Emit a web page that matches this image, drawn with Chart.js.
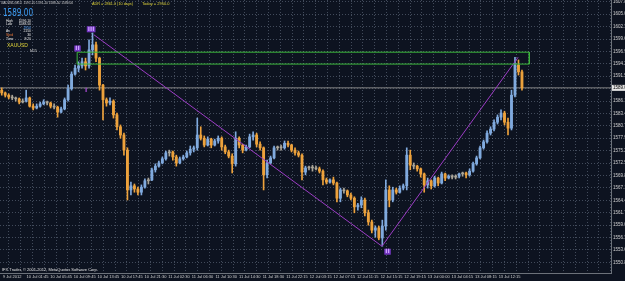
<!DOCTYPE html>
<html>
<head>
<meta charset="utf-8">
<script src="https://cdn.jsdelivr.net/npm/chart.js@4/dist/chart.umd.min.js"></script>
<style>
  html, body { margin: 0; padding: 0; background: #0d1320; overflow: hidden; }
</style>
</head>
<body>
<canvas id="chart" width="625" height="281"></canvas>
<script>
// XAUUSD M15, 9-13 Jul 2012 (one candle here ~ 2 bars of the original)
const openP = [
  1588.5, 1587.9, 1587.4, 1587.0, 1586.8, 1586.6, 1585.9, 1586.1, 1586.8, 1585.0,
  1584.6, 1585.0, 1585.5, 1585.9, 1585.7, 1585.0, 1584.8, 1583.7, 1584.4, 1586.4,
  1588.8, 1592.0, 1593.3, 1593.8, 1594.7, 1593.8, 1597.3, 1598.4, 1595.5, 1589.6,
  1586.4, 1585.7, 1586.1, 1583.1, 1580.5, 1578.7, 1575.4, 1566.7, 1567.6, 1566.9,
  1566.2, 1567.3, 1568.7, 1568.9, 1571.1, 1571.9, 1572.6, 1573.5, 1574.8, 1575.0,
  1573.9, 1572.6, 1573.5, 1573.9, 1574.8, 1575.6, 1575.9, 1578.7, 1578.0, 1576.5,
  1577.8, 1576.5, 1577.4, 1578.0, 1576.1, 1575.0, 1574.1, 1572.4, 1578.0, 1576.5,
  1575.4, 1576.1, 1578.3, 1578.7, 1576.7, 1575.9, 1570.0, 1572.6, 1573.7, 1575.9,
  1576.1, 1575.9, 1576.9, 1576.5, 1575.4, 1574.8, 1574.3, 1570.6, 1571.5, 1571.7,
  1571.5, 1571.3, 1570.8, 1568.9, 1568.4, 1568.9, 1568.2, 1564.9, 1566.7, 1566.5,
  1565.6, 1564.9, 1563.0, 1563.4, 1564.5, 1561.7, 1559.7, 1557.9, 1558.4, 1556.2,
  1558.8, 1566.7, 1564.5, 1566.7, 1566.2, 1567.1, 1567.6, 1574.3, 1572.1, 1571.9,
  1571.3, 1570.2, 1567.8, 1568.7, 1567.6, 1569.3, 1568.2, 1570.2, 1569.3, 1569.7,
  1569.5, 1569.7, 1570.2, 1570.4, 1570.0, 1570.8, 1572.4, 1573.7, 1575.9, 1577.2,
  1579.1, 1580.0, 1581.5, 1582.6, 1583.5, 1581.5, 1580.2, 1587.4, 1594.0, 1592.5
];
const highP = [
  1589.0, 1588.1, 1587.7, 1587.4, 1587.0, 1586.8, 1586.6, 1588.5, 1587.0, 1585.5,
  1585.5, 1585.9, 1586.4, 1586.1, 1585.9, 1585.5, 1585.0, 1584.8, 1586.8, 1589.6,
  1592.5, 1594.0, 1594.7, 1595.5, 1595.5, 1599.5, 1601.0, 1599.0, 1595.7, 1589.8,
  1586.8, 1586.8, 1586.4, 1583.5, 1580.9, 1579.1, 1575.9, 1568.4, 1568.0, 1567.3,
  1567.8, 1569.1, 1569.3, 1571.5, 1572.4, 1573.0, 1573.9, 1575.2, 1575.4, 1575.2,
  1574.3, 1573.9, 1574.3, 1575.2, 1576.3, 1576.3, 1582.4, 1580.5, 1578.5, 1578.3,
  1578.0, 1577.8, 1578.5, 1578.3, 1576.5, 1575.4, 1574.6, 1579.4, 1578.3, 1576.7,
  1576.5, 1578.9, 1579.4, 1579.1, 1577.2, 1576.1, 1573.2, 1574.1, 1576.3, 1576.3,
  1576.5, 1577.4, 1577.4, 1576.7, 1575.9, 1575.2, 1574.6, 1571.9, 1571.9, 1572.1,
  1571.9, 1571.7, 1571.1, 1569.3, 1569.1, 1569.5, 1568.4, 1567.1, 1567.1, 1566.7,
  1566.0, 1565.2, 1563.8, 1565.2, 1564.9, 1562.3, 1560.1, 1558.8, 1558.8, 1560.1,
  1568.9, 1567.6, 1567.3, 1567.1, 1567.6, 1568.0, 1575.9, 1575.4, 1572.6, 1572.1,
  1571.5, 1570.4, 1569.3, 1568.9, 1569.7, 1569.5, 1570.6, 1570.4, 1570.0, 1570.0,
  1570.0, 1570.4, 1570.6, 1570.6, 1571.3, 1572.8, 1574.1, 1576.3, 1577.6, 1579.6,
  1580.5, 1582.0, 1583.1, 1584.2, 1583.9, 1582.4, 1588.5, 1595.7, 1595.1, 1592.9
];
const lowP = [
  1587.4, 1587.0, 1586.6, 1586.4, 1586.1, 1585.5, 1585.7, 1585.9, 1584.8, 1584.2,
  1584.4, 1584.8, 1585.3, 1585.3, 1584.6, 1584.4, 1582.6, 1583.5, 1584.2, 1586.1,
  1588.5, 1591.8, 1592.5, 1593.3, 1592.9, 1593.3, 1596.2, 1594.7, 1588.5, 1582.0,
  1585.0, 1585.3, 1582.4, 1579.8, 1578.0, 1574.3, 1564.5, 1565.6, 1566.2, 1565.6,
  1565.6, 1567.1, 1568.0, 1568.7, 1570.6, 1571.7, 1572.4, 1573.2, 1574.1, 1573.2,
  1571.9, 1572.4, 1573.2, 1573.7, 1574.3, 1575.0, 1575.4, 1577.6, 1576.1, 1576.3,
  1575.9, 1576.3, 1576.9, 1575.4, 1574.6, 1573.7, 1570.4, 1571.9, 1575.9, 1574.8,
  1575.2, 1575.9, 1577.6, 1576.1, 1575.4, 1566.7, 1569.3, 1572.4, 1573.5, 1575.4,
  1575.4, 1575.6, 1576.1, 1575.0, 1574.3, 1573.9, 1568.9, 1570.0, 1571.1, 1570.8,
  1571.1, 1570.4, 1567.8, 1568.0, 1568.2, 1567.8, 1564.1, 1564.1, 1566.0, 1565.2,
  1564.5, 1561.7, 1562.3, 1562.8, 1561.0, 1559.0, 1557.3, 1556.4, 1555.8, 1554.4,
  1557.9, 1563.0, 1564.1, 1565.8, 1566.0, 1566.7, 1566.7, 1571.1, 1571.3, 1570.8,
  1569.5, 1566.2, 1567.1, 1566.9, 1567.3, 1567.6, 1568.0, 1568.7, 1569.1, 1569.1,
  1569.1, 1569.3, 1569.7, 1569.3, 1569.7, 1570.6, 1572.1, 1573.5, 1575.6, 1576.9,
  1578.7, 1579.6, 1581.1, 1582.0, 1580.9, 1578.7, 1579.8, 1587.0, 1591.8, 1588.5
];
const closeP = [
  1587.9, 1587.4, 1587.0, 1586.8, 1586.6, 1585.9, 1586.1, 1586.8, 1585.0, 1584.6,
  1585.0, 1585.5, 1585.9, 1585.7, 1585.0, 1584.8, 1583.7, 1584.4, 1586.4, 1588.8,
  1592.0, 1593.3, 1593.8, 1594.7, 1593.8, 1597.3, 1598.4, 1595.5, 1589.6, 1586.4,
  1585.7, 1586.1, 1583.1, 1580.5, 1578.7, 1575.4, 1566.7, 1567.6, 1566.9, 1566.2,
  1567.3, 1568.7, 1568.9, 1571.1, 1571.9, 1572.6, 1573.5, 1574.8, 1575.0, 1573.9,
  1572.6, 1573.5, 1573.9, 1574.8, 1575.6, 1575.9, 1578.7, 1578.0, 1576.5, 1577.8,
  1576.5, 1577.4, 1578.0, 1576.1, 1575.0, 1574.1, 1572.4, 1578.0, 1576.5, 1575.4,
  1576.1, 1578.3, 1578.7, 1576.7, 1575.9, 1570.0, 1572.6, 1573.7, 1575.9, 1576.1,
  1575.9, 1576.9, 1576.5, 1575.4, 1574.8, 1574.3, 1570.6, 1571.5, 1571.7, 1571.5,
  1571.3, 1570.8, 1568.9, 1568.4, 1568.9, 1568.2, 1564.9, 1566.7, 1566.5, 1565.6,
  1564.9, 1563.0, 1563.4, 1564.5, 1561.7, 1559.7, 1557.9, 1558.4, 1556.2, 1558.8,
  1566.7, 1564.5, 1566.7, 1566.2, 1567.1, 1567.6, 1574.3, 1572.1, 1571.9, 1571.3,
  1570.2, 1567.8, 1568.7, 1567.6, 1569.3, 1568.2, 1570.2, 1569.3, 1569.7, 1569.5,
  1569.7, 1570.2, 1570.4, 1570.0, 1570.8, 1572.4, 1573.7, 1575.9, 1577.2, 1579.1,
  1580.0, 1581.5, 1582.6, 1583.5, 1581.5, 1580.2, 1587.4, 1594.0, 1592.5, 1589.0
];

const timeLabels = [
  "9 Jul 2012", "10 Jul 01:45", "10 Jul 05:45", "10 Jul 09:45", "10 Jul 13:45",
  "10 Jul 17:45", "10 Jul 21:30", "11 Jul 02:30", "11 Jul 06:30", "11 Jul 10:30",
  "11 Jul 14:30", "11 Jul 18:30", "11 Jul 22:15", "12 Jul 03:15", "12 Jul 07:15",
  "12 Jul 11:15", "12 Jul 15:15", "12 Jul 19:15", "13 Jul 00:00", "13 Jul 04:15",
  "13 Jul 08:15", "13 Jul 12:15"
];
const priceTicks = [
  1607.80, 1605.09, 1602.38, 1599.67, 1596.96, 1594.25, 1591.54, 1588.83,
  1586.12, 1583.41, 1580.70, 1577.99, 1575.28, 1572.57, 1569.86, 1567.15,
  1564.44, 1561.73, 1559.02, 1556.31, 1553.60, 1550.89
];

const bid = 1589.00;
// resistance box and wave line (candle index, price)
const boxFrom = 21.6, boxTo = 151.1, boxTop = 1596.8, boxBottom = 1594.2;
const zigzagIdx = [26.4, 108.9, 147.9];
const zigzagPrice = [1600.6, 1554.4, 1595.7];
const waveMarks = [
  { text: "III", at: 25.6, price: 1601.8, box: true },
  { text: "II", at: 21.7, price: 1597.6, box: true },
  { text: "I", at: 24.2, price: 1588.4, box: false },
  { text: "II", at: 110.5, price: 1553.2, box: true }
];

const nSlots = 175;          // empty room to the right of the last candle
const slotsPerLabel = 6.76;  // time label every 16 M15 bars
const firstLabelAt = 0.36;
const priceMin = 1548.55, priceMax = 1608.2;

const bg = '#0d1320';
const gridColor = 'rgba(120,132,150,0.5)';
const upColor = '#80aade', downColor = '#eda23c', flatColor = '#aaa598';

const idx = closeP.map((_, i) => i);
const barColors = idx.map(i => {
  const d = closeP[i] - openP[i];
  if (Math.abs(d) < 0.25) return flatColor;
  return d > 0 ? upColor : downColor;
});

// tiny text: drawn large and scaled down so widths stay proportional
function tinyText(ctx, text, x, y, size, color, width, align) {
  ctx.save();
  ctx.translate(x, y);
  ctx.scale(0.25, 0.25);
  ctx.font = (size * 4) + 'px "Liberation Sans", sans-serif';
  ctx.fillStyle = color;
  ctx.textAlign = align || 'left';
  ctx.textBaseline = 'top';
  if (width) ctx.fillText(text, 0, 0, width * 4);
  else ctx.fillText(text, 0, 0);
  ctx.restore();
}

const overlay = {
  id: 'overlay',
  beforeDraw(chart) {
    const ctx = chart.ctx;
    ctx.save();
    ctx.fillStyle = bg;
    ctx.fillRect(0, 0, chart.width, chart.height);
    ctx.restore();
  },
  afterDatasetsDraw(chart) {
    const ctx = chart.ctx;
    const xs = chart.scales.x, ys = chart.scales.y;
    ctx.save();
    ctx.font = 'bold 6px "DejaVu Sans", sans-serif';
    ctx.textAlign = 'center';
    ctx.textBaseline = 'middle';
    waveMarks.forEach(m => {
      const px = xs.getPixelForValue(m.at), py = ys.getPixelForValue(m.price);
      const w = ctx.measureText(m.text).width + 2;
      if (m.box) {
        ctx.fillStyle = '#7436c2';
        ctx.fillRect(px - w / 2, py - 3, w, 6);
        ctx.fillStyle = '#cfa6ff';
      } else {
        ctx.fillStyle = '#b44ee0';
      }
      ctx.fillText(m.text, px, py);
    });
    ctx.restore();
  },
  afterDraw(chart) {
    const ctx = chart.ctx;
    const ys = chart.scales.y;

    tinyText(ctx, 'XAUUSD,M15  1591.10 1591.10 1588.50 1589.00', 1, 1.5, 3.6, '#d0d0d0', 72);
    tinyText(ctx, 'ADR = 2861.0 (10 days)', 92, 1.5, 4, '#e0d43a', 41);
    tinyText(ctx, 'Today = 2950.0', 142, 1.5, 4, '#e0d43a', 29);

    ctx.save();
    ctx.font = '11px "Liberation Sans Narrow", "DejaVu Sans Condensed", sans-serif';
    ctx.fillStyle = '#3d9cf2';
    ctx.textBaseline = 'top';
    ctx.fillText('1589.00', 3, 8, 30);
    ctx.restore();

    const rows = [
      ['High', '1596.10', '#e8e8e8', '#e8e8e8'],
      ['Low', '1588.50', '#e8e8e8', '#e8e8e8'],
      ['', '2950', '#e8e8e8', '#5aa8ff'],
      ['Av', '2150', '#e8e8e8', '#e8e8e8'],
      ['Sprd', '30', '#f07a3a', '#e8e8e8'],
      ['Time', '8:20', '#e8e8e8', '#e8e8e8']
    ];
    rows.forEach((r, k) => {
      const y = 19 + k * 3.6;
      tinyText(ctx, r[0], 6, y, 3.4, r[2]);
      tinyText(ctx, r[1], 31, y, 3.4, r[3], null, 'right');
    });

    tinyText(ctx, 'XAUUSD', 7, 42, 6, '#e0d43a', 21);
    tinyText(ctx, 'M15', 30, 49, 3.6, '#d0d0d0');
    tinyText(ctx, 'IFX Trader, \u00a9 2001-2012, MetaQuotes Software Corp.', 2, 267.5, 4, '#e0e0e0', 98);

    // current price tag on the price scale
    const py = ys.getPixelForValue(bid);
    ctx.save();
    ctx.fillStyle = '#e4e4e4';
    ctx.fillRect(chart.chartArea.right + 1, py - 3, 20, 6);
    ctx.restore();
    tinyText(ctx, bid.toFixed(2), chart.chartArea.right + 2, py - 2.2, 4.5, '#000');
  }
};

new Chart(document.getElementById('chart'), {
  type: 'bar',
  data: {
    datasets: [
      {
        type: 'line',
        data: [
          { x: boxFrom, y: boxTop }, { x: boxTo, y: boxTop },
          { x: boxTo, y: boxBottom }, { x: boxFrom, y: boxBottom },
          { x: boxFrom, y: boxTop }
        ],
        borderColor: '#3cb83c', borderWidth: 1, pointRadius: 0, tension: 0,
        order: 0
      },
      {
        type: 'line',
        data: zigzagIdx.map((x, k) => ({ x: x, y: zigzagPrice[k] })),
        borderColor: '#9b3cc4', borderWidth: 1, pointRadius: 0, tension: 0,
        order: 1
      },
      {
        type: 'line',
        data: [{ x: -0.5, y: bid }, { x: nSlots - 0.5, y: bid }],
        borderColor: '#858585', borderWidth: 1, pointRadius: 0,
        order: 4
      },
      {
        data: idx.map(i => ({ x: i, y: [lowP[i], highP[i]] })),
        backgroundColor: barColors,
        barThickness: 1, grouped: false, minBarLength: 1,
        order: 3
      },
      {
        data: idx.map(i => ({ x: i, y: [openP[i], closeP[i]] })),
        backgroundColor: barColors,
        barThickness: 2.2, grouped: false, minBarLength: 1,
        order: 2
      }
    ]
  },
  options: {
    responsive: false,
    devicePixelRatio: 1,
    animation: false,
    events: [],
    layout: { padding: 0 },
    plugins: { legend: { display: false }, tooltip: { enabled: false } },
    scales: {
      x: {
        type: 'linear',
        min: -0.5,
        max: nSlots - 0.5,
        offset: false,
        afterBuildTicks: s => {
          const t = [];
          for (let k = 0; firstLabelAt + k * slotsPerLabel / 2 < nSlots - 0.5; k++) {
            t.push({ value: firstLabelAt + k * slotsPerLabel / 2 });
          }
          s.ticks = t;
        },
        afterFit: s => {
          s.height = 8;
          s.paddingLeft = 0;
          s.paddingRight = 0;
        },
        ticks: {
          autoSkip: false,
          maxRotation: 0,
          align: 'start',
          padding: 1,
          color: '#d0d0d0',
          font: { size: 4, family: '"Liberation Sans", sans-serif' },
          callback: (v, i) => (i % 2 === 0 && timeLabels[i / 2]) ? timeLabels[i / 2] : ''
        },
        grid: { color: gridColor, drawTicks: false },
        border: { display: true, color: '#6c727a', dash: [1, 2] }
      },
      y: {
        type: 'linear',
        position: 'right',
        min: priceMin,
        max: priceMax,
        afterBuildTicks: s => { s.ticks = priceTicks.map(v => ({ value: v })); },
        afterFit: s => {
          s.width = 14;
          s.paddingTop = 0;
          s.paddingBottom = 0;
        },
        ticks: {
          padding: 2,
          color: '#d0d0d0',
          font: { size: 4.5, family: '"Liberation Sans", sans-serif' },
          callback: v => v.toFixed(2)
        },
        grid: { color: gridColor, drawTicks: false },
        border: { display: true, color: '#6c727a', dash: [1, 2] }
      }
    }
  },
  plugins: [overlay]
});
</script>
</body>
</html>
